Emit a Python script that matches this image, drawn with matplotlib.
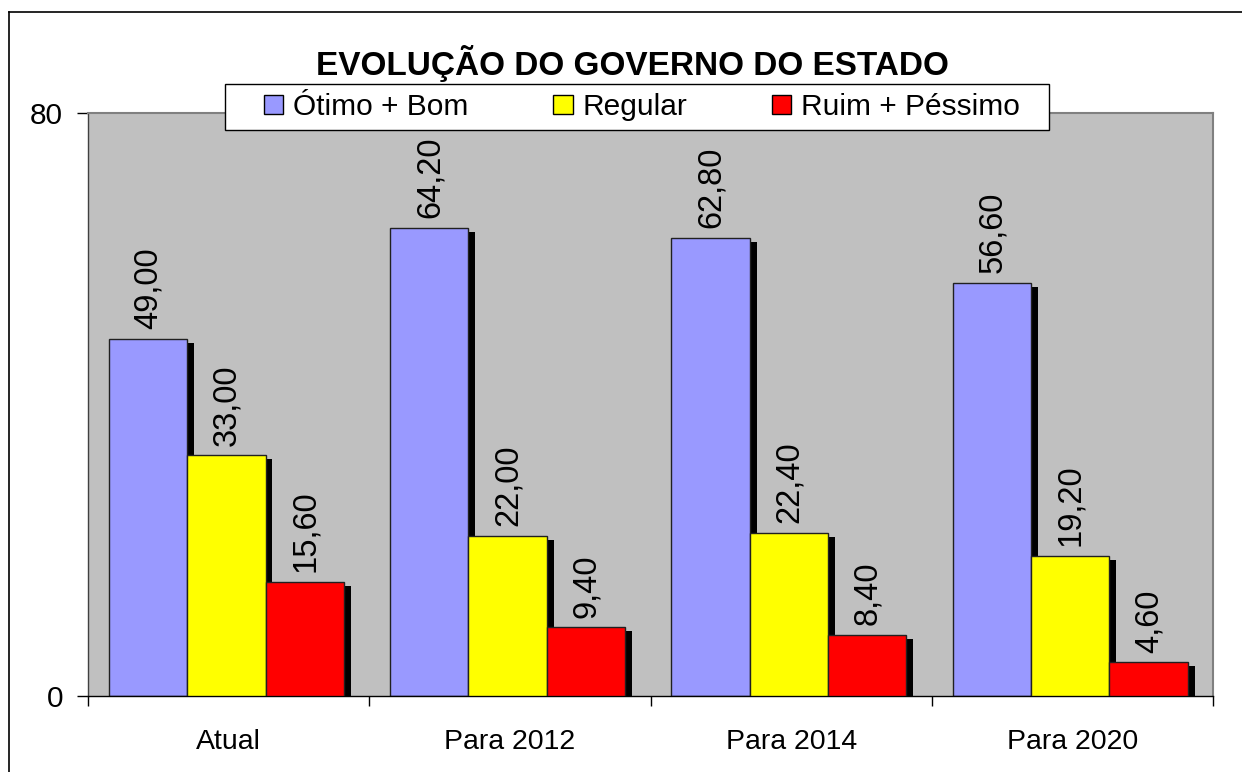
import matplotlib
matplotlib.use("Agg")
import matplotlib.pyplot as plt
import matplotlib.patheffects as pe
from matplotlib.patches import Rectangle, Patch
from matplotlib.lines import Line2D
import numpy as np

categories = ["Atual", "Para 2012", "Para 2014", "Para 2020"]
series_names = ["Ótimo + Bom", "Regular", "Ruim + Péssimo"]
otimo_bom = [49.00, 64.20, 62.80, 56.60]
regular = [33.00, 22.00, 22.40, 19.20]
ruim_pessimo = [15.60, 9.40, 8.40, 4.60]
title = "EVOLUÇÃO DO GOVERNO DO ESTADO"

colors = ["#9999FF", "#FFFF00", "#FF0000"]

plt.rcParams['font.family'] = ['Liberation Sans', 'DejaVu Sans']

W, H = 1242, 772
fig = plt.figure(figsize=(W / 100, H / 100), dpi=100)
fig.patch.set_facecolor("white")

def fx(px):
    return px / W

def fy(py):
    return 1 - py / H

ax = fig.add_axes([fx(88), fy(696), fx(1213) - fx(88), fy(112.5) - fy(696)])
ax.set_facecolor("#C0C0C0")

n = len(categories)
x = np.arange(n) + 0.5
w = 0.2786
shadow = [pe.SimplePatchShadow(offset=(5.0, -2.9), shadow_rgbFace="black", alpha=1.0), pe.Normal()]

all_series = [otimo_bom, regular, ruim_pessimo]
for k, (vals, col) in enumerate(zip(all_series, colors)):
    pos = x + (k - 1) * w - 0.008
    bars = ax.bar(pos, vals, width=w, color=col, edgecolor="#202020", linewidth=1.0,
                  zorder=2 + k)
    for b in bars:
        b.set_path_effects(shadow)
    for xi, v in zip(pos, vals):
        ax.annotate(f"{v:.2f}".replace(".", ","), xy=(xi, v), xytext=(0.5, 7),
                    textcoords="offset points", ha="center", va="bottom",
                    rotation=90, fontsize=23.5, color="black", zorder=10)

ax.set_xlim(0, n)
ax.set_ylim(0, 80)
ax.set_yticks([0, 80])
ax.set_yticklabels(["0", "80"])
ax.tick_params(axis="y", direction="out", length=8, width=1, pad=10, labelsize=21.5, colors="black")
ax.set_xticks(x)
ax.set_xticklabels(categories)
ax.tick_params(axis="x", which="major", length=0, pad=24, labelsize=20.5)
ax.set_xticks(np.arange(n + 1), minor=True)
ax.tick_params(axis="x", which="minor", direction="out", length=7.5, width=1, color="black")

for s in ["top", "right"]:
    ax.spines[s].set_color("#808080")
    ax.spines[s].set_linewidth(1.5)
for s in ["left", "bottom"]:
    ax.spines[s].set_color("black")
    ax.spines[s].set_linewidth(1.0)
ax.spines["left"].set_color("#404040")

fig.text(fx(632.5), fy(64), title, ha="center", va="center", fontsize=24, fontweight="bold")

# legend frame
fig.patches.append(Rectangle((fx(225), fy(130)), fx(1049) - fx(225), fy(84) - fy(130),
                             transform=fig.transFigure, facecolor="white", edgecolor="black",
                             linewidth=1.0, zorder=5))
handles = [Patch(facecolor=c, edgecolor="black", linewidth=1.0) for c in colors]
leg = fig.legend(handles, series_names, loc="center", bbox_to_anchor=(fx(642), fy(107)),
                 ncol=3, frameon=False, fontsize=21.5, handlelength=0.64, handleheight=0.64,
                 handletextpad=0.33, columnspacing=2.85, borderpad=0.2)
leg.set_zorder(6)

# figure border
fig.add_artist(Line2D([fx(9), fx(9)], [0, fy(12)], transform=fig.transFigure, color="black", linewidth=1.2))
fig.add_artist(Line2D([fx(9), 1], [fy(12), fy(12)], transform=fig.transFigure, color="black", linewidth=1.2))

fig.savefig("out.png", dpi=100)
